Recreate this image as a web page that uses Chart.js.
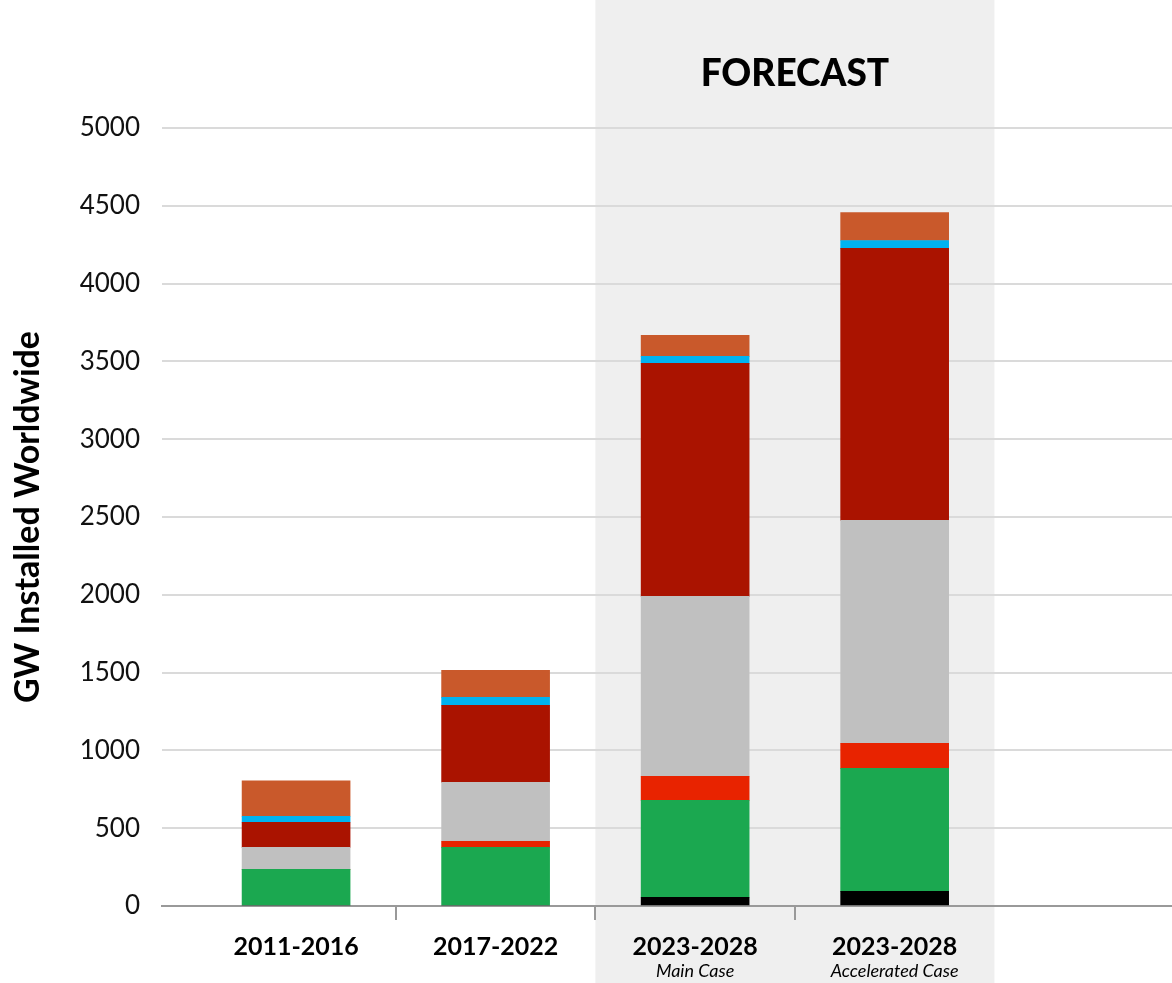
<!DOCTYPE html>
<html><head><meta charset="utf-8">
<script src="https://cdn.jsdelivr.net/npm/chart.js@4.4.1/dist/chart.umd.min.js"></script>
<style>html,body{margin:0;padding:0;background:#fff;} #wrap{width:1172px;height:983px;position:relative;}</style>
</head><body><div id="wrap"><canvas id="c" width="1172" height="983"></canvas></div>
<script>
const categories = ['2011-2016', '2017-2022', '2023-2028', '2023-2028'];
const subLabels = ['', '', 'Main Case', 'Accelerated Case'];
const seriesBlack   = [0, 0, 56, 94];
const seriesGreen   = [236, 377, 623, 790];
const seriesRed     = [0, 39, 154, 161];
const seriesGray    = [141, 379, 1157, 1433];
const seriesDarkRed = [161, 495, 1497, 1748];
const seriesCyan    = [39, 51, 45, 51];
const seriesOrange  = [227, 174, 135, 180];
const yTickValues = [0, 500, 1000, 1500, 2000, 2500, 3000, 3500, 4000, 4500, 5000];
const forecastTitle = 'FORECAST';
const yAxisTitle = 'GW Installed Worldwide';
const forecastRange = [1.5, 3.5];
const dividerTicks = [0.5, 1.5, 2.5];

const seriesList = [
  { name: 'black', values: seriesBlack, color: '#000000' },
  { name: 'green', values: seriesGreen, color: '#1ba850' },
  { name: 'red', values: seriesRed, color: '#e82300' },
  { name: 'gray', values: seriesGray, color: '#c0c0c0' },
  { name: 'darkred', values: seriesDarkRed, color: '#aa1300' },
  { name: 'cyan', values: seriesCyan, color: '#00b3f0' },
  { name: 'orange', values: seriesOrange, color: '#c9592b' }
];

const FONT = 'Lato';

const decor = {
  id: 'decor',
  beforeDraw(chart) {
    const ctx = chart.ctx, xs = chart.scales.x;
    const x1 = xs.getPixelForValue(forecastRange[0]);
    const x2 = xs.getPixelForValue(forecastRange[1]);
    ctx.save();
    ctx.fillStyle = '#efefef';
    ctx.fillRect(x1, 0, x2 - x1, chart.height);
    ctx.fillStyle = '#000';
    ctx.font = `900 37px ${FONT}`;
    ctx.textAlign = 'center';
    ctx.textBaseline = 'alphabetic';
    ctx.fillText(forecastTitle, (x1 + x2) / 2, 86);
    ctx.restore();
  },
  afterDraw(chart) {
    const ctx = chart.ctx, xs = chart.scales.x;
    ctx.save();
    ctx.fillStyle = '#000';
    ctx.textAlign = 'center';
    ctx.textBaseline = 'alphabetic';
    categories.forEach((c, i) => {
      const x = xs.getPixelForValue(i);
      ctx.font = `bold 25px ${FONT}`;
      ctx.fillText(c, x, 955);
      if (subLabels[i]) {
        ctx.font = `italic 18px ${FONT}`;
        ctx.fillText(subLabels[i], x, 977);
      }
    });
    ctx.restore();
  }
};

new Chart(document.getElementById('c'), {
  type: 'bar',
  data: {
    datasets: seriesList.map(s => ({
      label: s.name,
      data: s.values.map((v, i) => ({ x: i, y: v })),
      backgroundColor: s.color,
      borderWidth: 0,
      barThickness: 108
    }))
  },
  options: {
    responsive: false,
    animation: false,
    layout: { padding: { top: 128, right: 0, left: 0, bottom: 0 } },
    plugins: { legend: { display: false }, tooltip: { enabled: false } },
    scales: {
      x: {
        type: 'linear',
        stacked: true,
        offset: false,
        min: -0.672,
        max: 4.39,
        afterBuildTicks: s => { s.ticks = dividerTicks.map(v => ({ value: v })); },
        afterFit: s => { s.height = 77; },
        ticks: { display: false },
        grid: { offset: false, drawOnChartArea: false, drawTicks: true, tickLength: 14, color: '#999', lineWidth: 2 },
        border: { display: true, color: '#999', width: 2 }
      },
      y: {
        stacked: true,
        min: 0,
        max: 5000,
        afterBuildTicks: s => { s.ticks = yTickValues.map(v => ({ value: v })); },
        afterFit: s => { s.width = 162; },
        ticks: { padding: 22, color: '#111', font: { family: FONT, size: 26 }, callback: v => String(v) },
        grid: { color: '#dadada', lineWidth: 2, drawTicks: false },
        border: { display: false },
        title: { display: true, text: yAxisTitle, color: '#000', font: { family: FONT, size: 34, weight: 'bold' }, padding: { top: 8, bottom: 0 } }
      }
    }
  },
  plugins: [decor]
});
</script>
</body></html>
